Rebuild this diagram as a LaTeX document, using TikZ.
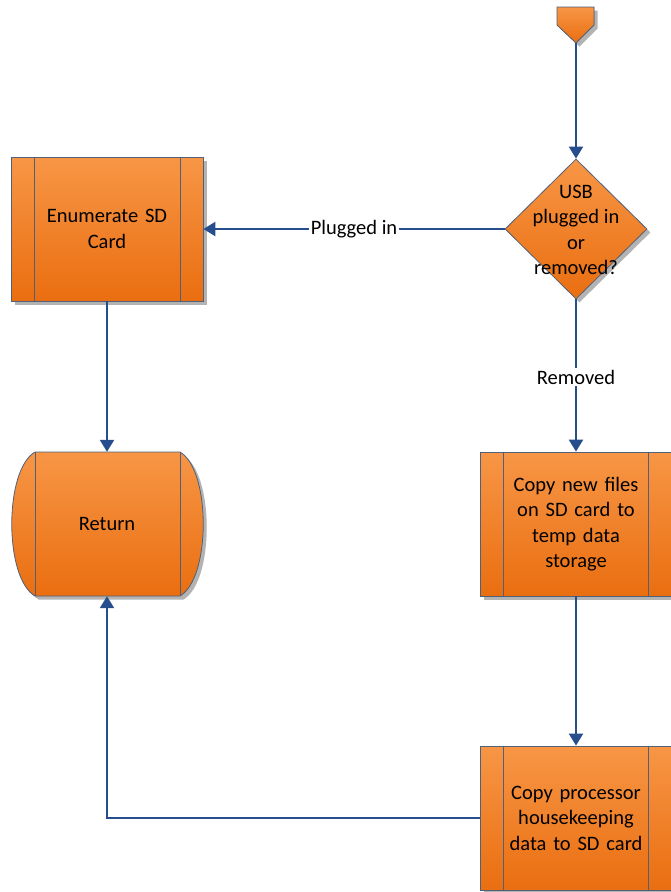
\documentclass[tikz,border=0pt]{standalone}
\usepackage{fontspec}
\setmainfont{Carlito}
\usetikzlibrary{shapes.geometric,arrows.meta,shadows,calc}
\definecolor{arrowblue}{RGB}{38,78,140}
\definecolor{edgegray}{RGB}{80,96,120}
\definecolor{orangetop}{RGB}{247,150,70}
\definecolor{orangebot}{RGB}{234,110,16}
\begin{document}
\begin{tikzpicture}[x=1pt,y=-1pt,
  shade box/.style={draw=edgegray, line width=0.8pt, top color=orangetop, bottom color=orangebot,
     drop shadow={shadow xshift=3.5pt, shadow yshift=-3.5pt, fill=black!40, opacity=0.75}},
  procbox/.style={shade box, rectangle, minimum width=192pt, minimum height=144pt, inner sep=0pt,
     align=center, font=\fontsize{20.5}{25.5}\selectfont, text width=150pt},
  txt/.style={align=center, font=\fontsize{20.5}{25.5}\selectfont},
  conn/.style={draw=arrowblue, line width=2.2pt, -{Triangle[length=12pt,width=14pt]}},
  lbl/.style={fill=white, inner sep=1.5pt, font=\fontsize{20.5}{24}\selectfont}
]
\useasboundingbox (0,0) rectangle (670,892);

% start off-page connector
\filldraw[shade box] (557,7) -- (594,7) -- (594,25) -- (576,43) -- (557,25) -- cycle;
\coordinate (start) at (576,43);

% decision
\node[shade box, diamond, minimum width=142pt, minimum height=140pt, inner sep=0pt] (dec) at (576,229) {};
\node[txt] (dectxt) at (576,230) {USB\\plugged in\\or\\removed?};

% enumerate
\node[procbox] (enum) at (107,229) {Enumerate SD\\Card};
\draw[edgegray, line width=0.8pt] ($(enum.north west)+(24,0)$) -- ($(enum.south west)+(24,0)$)
  ($(enum.north east)+(-23,0)$) -- ($(enum.south east)+(-23,0)$);

% return
\node[minimum width=192pt, minimum height=144pt, inner sep=0pt] (ret) at (107,524) {};
\path[shade box] (35,452) -- (180,452)
   .. controls (211,470) and (211,578) .. (180,596)
   -- (35,596)
   .. controls (4,578) and (4,470) .. (35,452) -- cycle;
\draw[edgegray, line width=0.8pt] (35,452) -- (35,596) (180,452) -- (180,596);
\node[txt] (rettxt) at (ret) {Return};

% copy new files
\node[procbox] (copy1) at (576,524) {Copy new files\\on SD card to\\temp data\\storage};
\draw[edgegray, line width=0.8pt] ($(copy1.north west)+(24,0)$) -- ($(copy1.south west)+(24,0)$)
  ($(copy1.north east)+(-24,0)$) -- ($(copy1.south east)+(-24,0)$);

% copy processor
\node[procbox] (copy2) at (576,818) {Copy processor\\housekeeping\\data to SD card};
\draw[edgegray, line width=0.8pt] ($(copy2.north west)+(24,0)$) -- ($(copy2.south west)+(24,0)$)
  ($(copy2.north east)+(-24,0)$) -- ($(copy2.south east)+(-24,0)$);

% connectors
\draw[conn] (start) -- (dec.north);
\draw[conn] (dec.west) -- node[lbl] {Plugged in} (enum.east);
\draw[conn] (enum.south) -- (ret.north);
\draw[conn] (dec.south) -- node[lbl, pos=0.51] {Removed} (copy1.north);
\draw[conn] (copy1.south) -- (copy2.north);
\draw[conn] (copy2.west) -| (ret.south);
\end{tikzpicture}
\end{document}
